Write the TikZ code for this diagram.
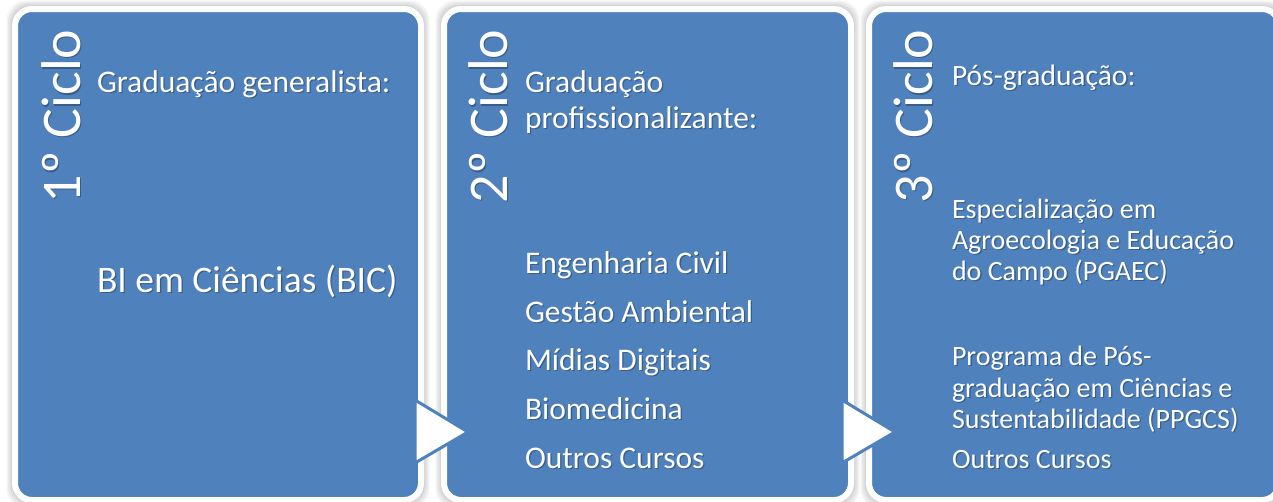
\documentclass[tikz,border=0pt]{standalone}
\usepackage{fontspec}
\setmainfont{Carlito}
\usetikzlibrary{backgrounds}
\definecolor{boxblue}{RGB}{79,129,189}
\newcommand\tline[5]{%
  \node[txtshadow, font=\fontsize{#4}{#4}\selectfont] at ({#2+1.3},{-#3-1.6}) {#5};
  \node[txt, font=\fontsize{#4}{#4}\selectfont] (#1) at (#2,-#3) {#5};}
\newcommand\cyclelabel[4]{%
  \node[txtshadow, rotate=90, font=\fontsize{#4}{#4}\selectfont] at ({#2+1.3},{-#3-1.6}) {#1º Ciclo};
  \node[txt, rotate=90, font=\fontsize{#4}{#4}\selectfont] (cyc#1) at (#2,-#3) {#1º Ciclo};}
\begin{document}
\begin{tikzpicture}[x=1pt,y=1pt,
  stagebox/.style={fill=boxblue, draw=white, line width=6pt, rounded corners=17pt,
    inner sep=0pt, outer sep=0pt, anchor=north west},
  txt/.style={anchor=base west, inner sep=0pt, outer sep=0pt, text=white},
  txtshadow/.style={anchor=base west, inner sep=0pt, outer sep=0pt, text=black, opacity=0.28},
  arrowtri/.style={fill=white, draw=boxblue, line width=3pt, line join=miter}]
\useasboundingbox (0,0) rectangle (1273,-501);
% boxes (blue area 18-418, 447-848, 872-1276; y 12-497)
\node[stagebox, minimum width=406pt, minimum height=491pt] (c1) at (15,-9) {};
\node[stagebox, minimum width=407pt, minimum height=491pt] (c2) at (444,-9) {};
\node[stagebox, minimum width=410pt, minimum height=491pt] (c3) at (869,-9) {};
\begin{scope}[on background layer]
  \fill[white] (0,0) rectangle (1273,-501);
  \foreach \n in {c1,c2,c3}{
    \foreach \e in {1,2.5,4,5.5,7,8.5}{
      \fill[black, opacity=0.045, rounded corners=20pt]
        ([shift={(-\e,\e)}]\n.north west) rectangle ([shift={(\e,-\e)}]\n.south east);
    }
  }
\end{scope}
% arrows between stages
\filldraw[arrowtri] (415,-400) -- (468,-432) -- (415,-463) -- cycle;
\filldraw[arrowtri] (842,-400) -- (895,-432) -- (842,-463) -- cycle;
% cycle labels
\cyclelabel{1}{80}{203}{56}
\cyclelabel{2}{507}{203}{56}
\cyclelabel{3}{932}{203}{56}
% box 1
\tline{h1}{97}{92}{31.5}{Graduação generalista:}
\tline{bic}{97}{292}{37.5}{BI em Ciências (BIC)}
% box 2
\tline{h2a}{525}{92}{31.5}{Graduação}
\tline{h2b}{525}{128}{31.5}{profissionalizante:}
\tline{l2a}{525}{273}{31.5}{Engenharia Civil}
\tline{l2b}{525}{322}{31.5}{Gestão Ambiental}
\tline{l2c}{525}{370}{31.5}{Mídias Digitais}
\tline{l2d}{525}{419}{31.5}{Biomedicina}
\tline{l2e}{525}{468}{31.5}{Outros Cursos}
% box 3
\tline{h3}{952}{85}{29.5}{Pós-graduação:}
\tline{l3a}{952}{218}{28}{Especialização em}
\tline{l3b}{952}{249}{28}{Agroecologia e Educação}
\tline{l3c}{952}{280}{28}{do Campo (PGAEC)}
\tline{l3d}{952}{365}{28}{Programa de Pós-}
\tline{l3e}{952}{397}{28}{graduação em Ciências e}
\tline{l3f}{952}{428}{28}{Sustentabilidade (PPGCS)}
\tline{l3g}{952}{468}{28}{Outros Cursos}
\end{tikzpicture}
\end{document}
